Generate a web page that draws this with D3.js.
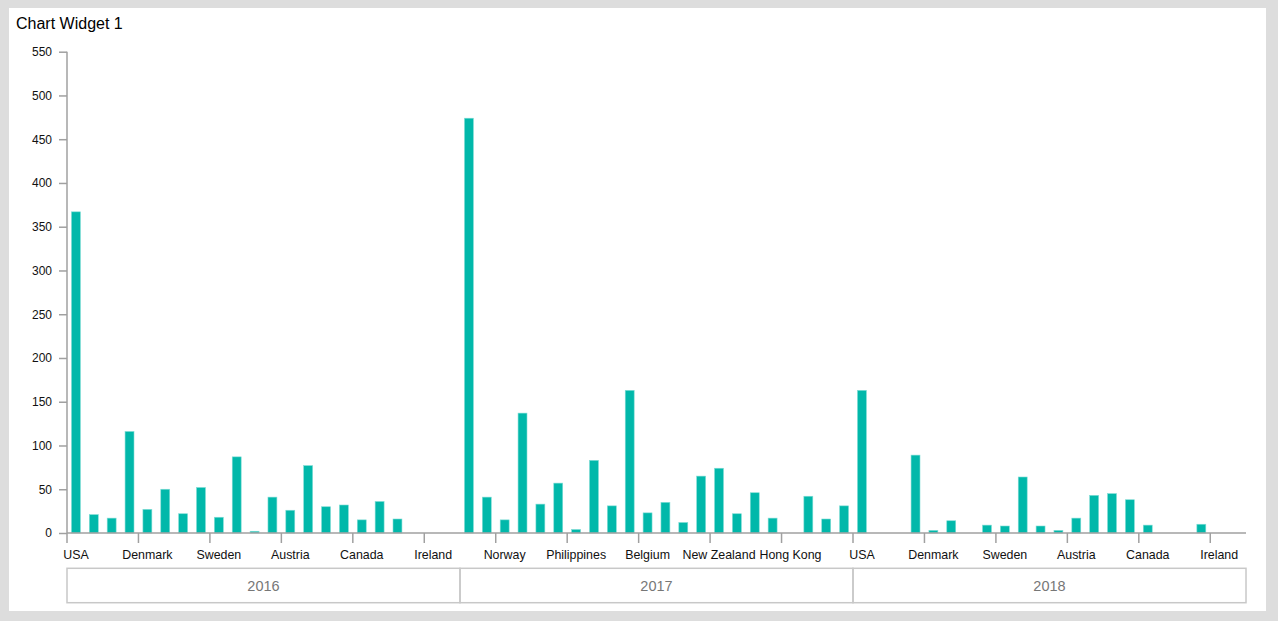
<!DOCTYPE html>
<html>
<head>
<meta charset="utf-8">
<script src="https://cdn.jsdelivr.net/npm/d3@7/dist/d3.min.js"></script>
<style>
  html, body { margin: 0; padding: 0; background: #dddddd; }
  svg { display: block; }
  text { font-family: "Liberation Sans", Arial, sans-serif; }
</style>
</head>
<body>
<svg id="chart" width="1278" height="621"></svg>
<script>
const title = "Chart Widget 1";
const years = ["2016", "2017", "2018"];
const countries = ["USA", "UK", "Norway", "Germany", "Denmark", "France", "Philippines", "Japan",
  "Sweden", "Finland", "Belgium", "Netherlands", "Austria", "Switzerland", "New Zealand", "Australia",
  "Canada", "Singapore", "Hong Kong", "Spain", "Ireland", "Italy"];
const values2016 = [367, 21, 17, 116, 27, 50, 22, 52, 18, 87, 2, 41, 26, 77, 30, 32, 15, 36, 16, 0, 0, 0];
const values2017 = [474, 41, 15, 137, 33, 57, 4, 83, 31, 163, 23, 35, 12, 65, 74, 22, 46, 17, 0, 42, 16, 31];
const values2018 = [163, 0, 0, 89, 3, 14, 0, 9, 8, 64, 8, 3, 17, 43, 45, 38, 9, 0, 0, 10, 0, 0];
const yTicks = [0, 50, 100, 150, 200, 250, 300, 350, 400, 450, 500, 550];
const labelEvery = 4;

const seriesByYear = [values2016, values2017, values2018];
const data = [];
years.forEach((yr, yi) => {
  countries.forEach((c, ci) => {
    data.push({ key: yr + "|" + c, year: yr, country: c, value: seriesByYear[yi][ci] });
  });
});

const svg = d3.select("#chart");
svg.append("rect").attr("x", 9).attr("y", 8).attr("width", 1257).attr("height", 603).attr("fill", "#ffffff");

svg.append("text").attr("x", 16).attr("y", 28.5).attr("font-size", 16).attr("fill", "#000")
  .text(title);

const plotLeft = 67, plotRight = 1246, plotTop = 51.7, plotBottom = 533;

const x = d3.scaleBand().domain(data.map(d => d.key)).range([plotLeft, plotRight])
  .paddingInner(0.5).paddingOuter(0.25);
const y = d3.scaleLinear().domain([0, 550]).range([plotBottom, plotTop]);
const step = x.step();

// bars
svg.append("g").selectAll("rect").data(data.filter(d => d.value > 0)).join("rect")
  .attr("x", d => x(d.key))
  .attr("width", x.bandwidth())
  .attr("y", d => y(d.value))
  .attr("height", d => y(0) - y(d.value))
  .attr("fill", "#01B8AA")
  .attr("stroke", "#7fdcd5")
  .attr("stroke-width", 0.6);

// y axis
const yAxis = svg.append("g").attr("transform", `translate(${plotLeft},0)`)
  .call(d3.axisLeft(y).tickValues(yTicks).tickSize(8).tickPadding(7).tickFormat(d3.format("d")));
yAxis.select(".domain").attr("stroke", "#a0a0a0").attr("stroke-width", 1.5).attr("d", `M0,${plotTop}V${plotBottom}`);
yAxis.selectAll(".tick line").attr("stroke", "#a0a0a0").attr("stroke-width", 1.5);
yAxis.selectAll(".tick text").attr("font-size", 12).attr("fill", "#111").attr("font-family", "Liberation Sans, Arial, sans-serif");

// x axis
const tickKeys = data.filter((d, i) => i % labelEvery === 0).map(d => d.key);
const xAxis = svg.append("g").attr("transform", `translate(0,${plotBottom})`)
  .call(d3.axisBottom(x).tickValues(tickKeys).tickSize(10).tickPadding(7)
    .tickFormat(k => k.split("|")[1]));
xAxis.select(".domain").attr("stroke", "#a0a0a0").attr("stroke-width", 1.5).attr("d", `M${plotLeft},0H${plotRight}`);
xAxis.selectAll(".tick line").attr("stroke", "#a0a0a0").attr("stroke-width", 1.5)
  .attr("x1", -step / 2).attr("x2", -step / 2);
xAxis.selectAll(".tick text").attr("font-size", 12.4).attr("fill", "#111").attr("font-family", "Liberation Sans, Arial, sans-serif");

// year boxes
const yearG = svg.append("g");
years.forEach((yr, yi) => {
  const x0 = plotLeft + yi * countries.length * step;
  const x1 = plotLeft + (yi + 1) * countries.length * step;
  yearG.append("rect").attr("x", x0).attr("y", 568.3).attr("width", x1 - x0).attr("height", 34.4)
    .attr("fill", "none").attr("stroke", "#c8c8c8").attr("stroke-width", 1.5);
  yearG.append("text").attr("x", (x0 + x1) / 2).attr("y", 590.7).attr("text-anchor", "middle")
    .attr("font-size", 14.5).attr("fill", "#777").text(yr);
});
</script>
</body>
</html>
